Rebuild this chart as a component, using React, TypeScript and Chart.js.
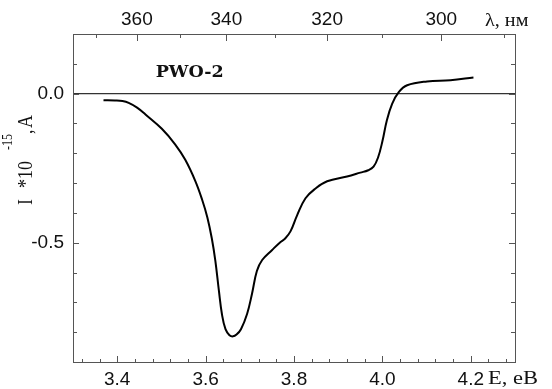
import React, { useEffect, useRef } from "react";
import { Chart, registerables } from "chart.js";

Chart.register(...registerables);

// Photon energy, eV
const energyEV = [
  3.369, 3.395, 3.412, 3.426, 3.445, 3.464, 3.501, 3.531, 3.554, 3.577, 3.592,
  3.604, 3.614, 3.622, 3.63, 3.637, 3.645, 3.654, 3.662, 3.67, 3.68, 3.694,
  3.705, 3.716, 3.728, 3.75, 3.769, 3.78, 3.792, 3.807, 3.826, 3.848, 3.875,
  3.92, 3.95, 3.968, 3.98, 3.99, 4.0, 4.01, 4.022, 4.037, 4.056, 4.101, 4.154,
  4.206,
];
// Current, I * 10^-15 A
const currentI = [
  -0.022, -0.023, -0.025, -0.031, -0.047, -0.07, -0.118, -0.17, -0.222, -0.294,
  -0.355, -0.415, -0.485, -0.56, -0.66, -0.74, -0.79, -0.81, -0.814, -0.808,
  -0.79, -0.738, -0.671, -0.595, -0.558, -0.525, -0.498, -0.486, -0.462,
  -0.408, -0.351, -0.319, -0.294, -0.278, -0.265, -0.257, -0.245, -0.215,
  -0.16, -0.09, -0.034, 0.005, 0.028, 0.041, 0.045, 0.054,
];

const xMajorTicks = [3.4, 3.6, 3.8, 4.0, 4.2];
const xMinorTicks = [
  3.32, 3.36, 3.44, 3.48, 3.52, 3.56, 3.64, 3.68, 3.72, 3.76, 3.84, 3.88, 3.92,
  3.96, 4.04, 4.08, 4.12, 4.16, 4.24, 4.28,
];
const lambdaMajorTicks = [360, 340, 320, 300];
const lambdaMinorTicks = [370, 350, 330, 310, 290];
const yMajorTicks = [0, -0.5];
const yMinorTicks = [0.1, -0.1, -0.2, -0.3, -0.4, -0.6, -0.7, -0.8];
const HC_EV_NM = 1240;

const X_MIN = 3.3;
const X_MAX = 4.3;
const Y_MIN = -0.9;
const Y_MAX = 0.2;

const W = 552;
const H = 389;
const AREA_L = 73;
const AREA_R = 515;
const AREA_T = 34;
const AREA_B = 362;

const decor = {
  id: "decor",
  beforeDatasetsDraw(chart: any) {
    const { ctx, chartArea: a, scales } = chart;
    const y0 = scales.y.getPixelForValue(0);
    ctx.save();
    ctx.strokeStyle = "#333";
    ctx.lineWidth = 1.3;
    ctx.beginPath();
    ctx.moveTo(a.left, y0);
    ctx.lineTo(a.right, y0);
    ctx.stroke();
    ctx.restore();
  },
  afterDraw(chart: any) {
    const { ctx, chartArea: a, scales } = chart;
    const xs = scales.x;
    const ys = scales.y;
    ctx.save();
    ctx.strokeStyle = "#555";
    ctx.lineWidth = 1;
    ctx.strokeRect(
      Math.round(a.left) + 0.5,
      Math.round(a.top) + 0.5,
      Math.round(a.right - a.left),
      Math.round(a.bottom - a.top)
    );
    const vt = (px: number, y1: number, y2: number) => {
      const p = Math.round(px) + 0.5;
      ctx.beginPath();
      ctx.moveTo(p, y1);
      ctx.lineTo(p, y2);
      ctx.stroke();
    };
    const ht = (py: number, x1: number, x2: number) => {
      const p = Math.round(py) + 0.5;
      ctx.beginPath();
      ctx.moveTo(x1, p);
      ctx.lineTo(x2, p);
      ctx.stroke();
    };
    xMajorTicks.forEach((v) => vt(xs.getPixelForValue(v), a.bottom, a.bottom - 6));
    xMinorTicks.forEach((v) => vt(xs.getPixelForValue(v), a.bottom, a.bottom - 3));
    lambdaMajorTicks.forEach((l) =>
      vt(xs.getPixelForValue(HC_EV_NM / l), a.top, a.top + 7)
    );
    lambdaMinorTicks.forEach((l) =>
      vt(xs.getPixelForValue(HC_EV_NM / l), a.top, a.top + 4)
    );
    yMajorTicks.forEach((v) => {
      ht(ys.getPixelForValue(v), a.left, a.left + 6);
      ht(ys.getPixelForValue(v), a.right, a.right - 6);
    });
    yMinorTicks.forEach((v) => {
      ht(ys.getPixelForValue(v), a.left, a.left + 4);
      ht(ys.getPixelForValue(v), a.right, a.right - 4);
    });

    ctx.fillStyle = "#111";
    ctx.textBaseline = "alphabetic";
    ctx.textAlign = "left";
    ctx.save();
    ctx.font = '18px "Liberation Serif", "Times New Roman", serif';
    ctx.translate(488, 384);
    ctx.scale(1.25, 1);
    ctx.fillText("E, eB", 0, 0);
    ctx.restore();
    ctx.save();
    ctx.font = '18px "Liberation Serif", "Times New Roman", serif';
    ctx.translate(485, 26);
    ctx.scale(1.12, 1);
    ctx.fillText("λ, нм", 0, 0);
    ctx.restore();
    ctx.save();
    ctx.translate(31.7, 205);
    ctx.rotate(-Math.PI / 2);
    ctx.scale(1, 1.2);
    ctx.font = '18px "Liberation Serif", "Times New Roman", serif';
    ctx.fillText("I", 0, 0);
    ctx.fillText("*10", 17, 0);
    ctx.fillText(",", 71, 0);
    ctx.fillText("A", 77, 0);
    ctx.font = '12px "Liberation Serif", "Times New Roman", serif';
    ctx.fillText("-15", 55, -16.4);
    ctx.restore();
    ctx.save();
    ctx.font = 'bold 17.5px "DejaVu Serif", serif';
    ctx.textAlign = "center";
    ctx.fillText("PWO-2", 189.7, 76.7);
    ctx.restore();
    ctx.restore();
  },
};

export default function App() {
  const ref = useRef<HTMLCanvasElement>(null);
  useEffect(() => {
    if (!ref.current) return;
    const tickFont = { family: '"Liberation Sans", Arial, sans-serif', size: 19 };
    const chart = new Chart(ref.current, {
      type: "line",
      data: {
        datasets: [
          {
            data: energyEV.map((x, i) => ({ x, y: currentI[i] })),
            borderColor: "#000",
            borderWidth: 2,
            pointRadius: 0,
            fill: false,
            tension: 0.4,
          },
        ],
      },
      options: {
        animation: false,
        responsive: false,
        maintainAspectRatio: false,
        layout: { padding: { left: 0, top: 0, right: W - AREA_R, bottom: 0 } },
        plugins: { legend: { display: false }, tooltip: { enabled: false } },
        scales: {
          x: {
            type: "linear",
            position: "bottom",
            min: X_MIN,
            max: X_MAX,
            grid: { display: false, drawTicks: false },
            border: { display: false },
            afterBuildTicks: (s: any) => {
              s.ticks = xMajorTicks.map((v) => ({ value: v }));
            },
            afterFit: (s: any) => {
              s.height = H - AREA_B;
            },
            ticks: {
              padding: 6,
              color: "#111",
              font: tickFont,
              maxRotation: 0,
              autoSkip: false,
              callback: (v: any) => Number(v).toFixed(1),
            },
          },
          x2: {
            type: "linear",
            position: "top",
            min: X_MIN,
            max: X_MAX,
            grid: { display: false, drawTicks: false },
            border: { display: false },
            afterBuildTicks: (s: any) => {
              s.ticks = lambdaMajorTicks.map((l) => ({ value: HC_EV_NM / l }));
            },
            afterFit: (s: any) => {
              s.height = AREA_T;
            },
            ticks: {
              padding: 3,
              color: "#111",
              font: tickFont,
              maxRotation: 0,
              autoSkip: false,
              callback: (v: any) => String(Math.round(HC_EV_NM / Number(v))),
            },
          },
          y: {
            type: "linear",
            position: "left",
            min: Y_MIN,
            max: Y_MAX,
            grid: { display: false, drawTicks: false },
            border: { display: false },
            afterBuildTicks: (s: any) => {
              s.ticks = yMajorTicks.map((v) => ({ value: v }));
            },
            afterFit: (s: any) => {
              s.width = AREA_L;
            },
            ticks: {
              padding: 9,
              color: "#111",
              font: tickFont,
              autoSkip: false,
              callback: (v: any) => Number(v).toFixed(1),
            },
          },
        },
      } as any,
      plugins: [decor],
    });
    return () => chart.destroy();
  }, []);
  return (
    <div style={{ position: "absolute", left: 0, top: 0, width: W, height: H }}>
      <canvas ref={ref} width={W} height={H} style={{ width: W, height: H }} />
    </div>
  );
}
